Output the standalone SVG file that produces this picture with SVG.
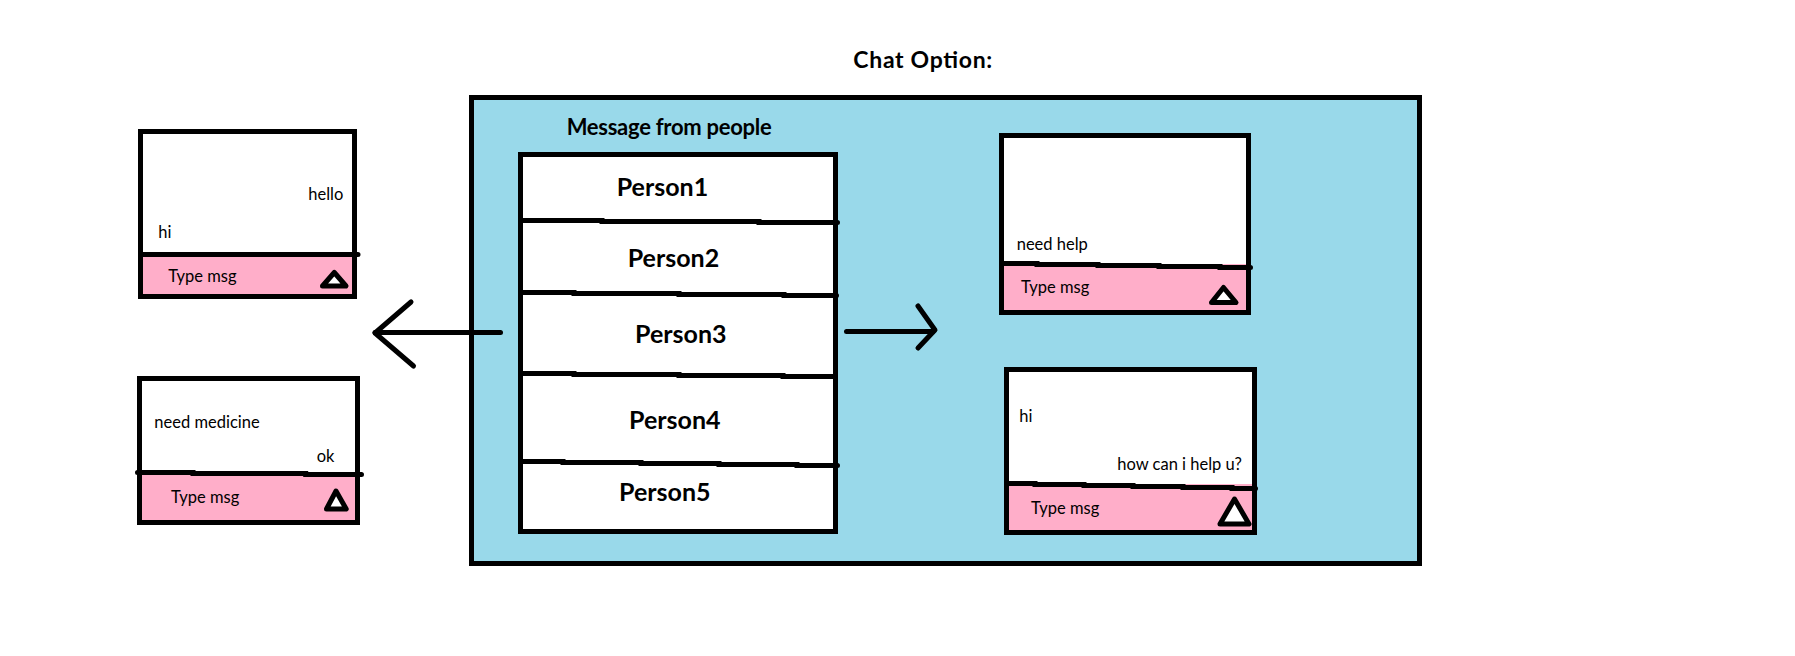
<svg xmlns="http://www.w3.org/2000/svg" width="1795" height="656" viewBox="0 0 1795 656">
<style>
text{font-family:"Lato","Liberation Sans",sans-serif;fill:#000}
.s{font-size:16.5px}
.p{font-size:25px;font-weight:700}
.h{font-size:23px;font-weight:700}
.m{font-size:22px;font-weight:700}
.b{stroke:#000;stroke-width:5;fill:#fff}
.l{stroke:#000;stroke-width:5;fill:none;stroke-linecap:round;stroke-linejoin:round}
.d{stroke:#000;stroke-width:5;fill:none;stroke-linecap:round}
.t{stroke:#000;stroke-width:5;fill:#fff;stroke-linejoin:round}
.k{fill:#ffaec9}
</style>
<rect width="1795" height="656" fill="#fff"/>
<text id="title" class="h" x="853.3" y="68.3" textLength="139">Chat Option:</text>
<g id="panel">
<rect x="471.5" y="97.5" width="948" height="466" fill="#99d9ea" stroke="#000" stroke-width="5"/>
<text class="m" x="566.7" y="135" textLength="205">Message from people</text>
</g>
<g id="people-list">
<rect class="b" x="520.5" y="154.5" width="315" height="377"/>
<path class="d" d="M523 220.500H602V221.500H759V222.500H837.500"/>
<path class="d" d="M523 292.500H574V293.500H679V294.500H784V295.500H836.500"/>
<path class="d" d="M523 373.500H574V374.500H679V375.500H783V376.500H834"/>
<path class="d" d="M523 461.500H563V462.500H641V463.500H719V464.500H797V465.500H837.500"/>
<text class="p" x="616.700" y="196">Person1</text>
<text class="p" x="627.700" y="267">Person2</text>
<text class="p" x="635" y="343">Person3</text>
<text class="p" x="629" y="429">Person4</text>
<text class="p" x="619" y="501">Person5</text>
</g>
<g id="chat-left-top">
<rect class="b" x="140.500" y="131.500" width="214" height="165"/>
<rect class="k" x="143" y="254" width="209" height="40"/>
<path class="d" d="M143 254.500H358"/>
<path class="t" d="M334.300 272.500L346 286H322.500Z"/>
<text class="s" x="308.300" y="200">hello</text>
<text class="s" x="158.300" y="237.700">hi</text>
<text class="s" x="168.300" y="281.700">Type msg</text>
</g>
<g id="chat-left-bottom">
<rect class="b" x="139.500" y="378.500" width="218" height="144"/>
<rect class="k" x="142" y="473" width="213" height="47"/>
<path class="d" d="M137.500 472.500H193V473.500H305.700V474.500H361.500"/>
<path class="t" d="M336 491L346.200 509H326.500Z"/>
<text class="s" x="154.300" y="428.300">need medicine</text>
<text class="s" x="316.700" y="462.300">ok</text>
<text class="s" x="171" y="502.700">Type msg</text>
</g>
<g id="chat-right-top">
<rect class="b" x="1001.500" y="135.500" width="247" height="177"/>
<rect class="k" x="1004" y="264" width="242" height="46"/>
<path class="d" d="M1004 263.500H1037V264.500H1098V265.500H1159V266.500H1220V267.500H1250.500"/>
<path class="t" d="M1223.500 287.500L1236 302.500H1211.500Z"/>
<text class="s" x="1016.700" y="250">need help</text>
<text class="s" x="1021" y="293.300">Type msg</text>
</g>
<g id="chat-right-bottom">
<rect class="b" x="1006.500" y="369.500" width="248" height="163"/>
<rect class="k" x="1009" y="484" width="243" height="46"/>
<path class="d" d="M1009 483.500H1035V484.500H1084V485.500H1133V486.500H1183V487.500H1232V488.500H1255.500"/>
<path class="t" d="M1234.500 499L1249 524H1220Z"/>
<text class="s" x="1019.300" y="421.700">hi</text>
<text class="s" x="1117.300" y="470">how can i help u?</text>
<text class="s" x="1031" y="514">Type msg</text>
</g>
<g id="connectors">
<path class="l" d="M500.500 332.500H375"/>
<path class="l" d="M411 302L375 333L413.500 366"/>
<path class="l" d="M846.500 331.500H933"/>
<path class="l" d="M918 306L935 330L918 348"/>
</g>
</svg>
